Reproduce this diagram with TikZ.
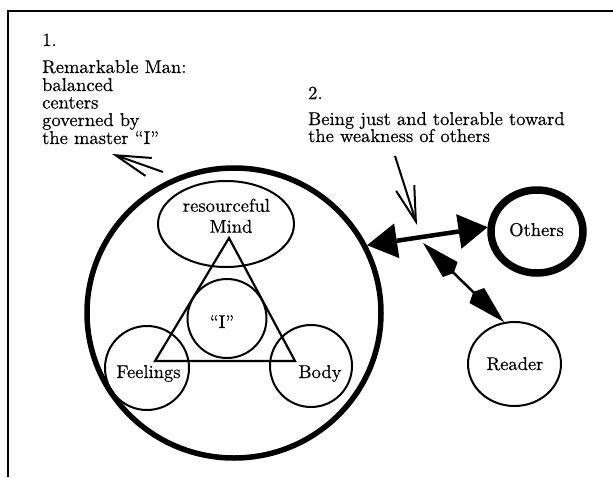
\documentclass[tikz,border=0pt]{standalone}
\usepackage{fontspec}
\setmainfont{lmroman10-regular.otf}[FakeBold=0.5]
\usetikzlibrary{arrows.meta,shapes.geometric}
\begin{document}
\begin{tikzpicture}[x=1pt,y=-1pt,
  txt/.style={font=\fontsize{18.5}{17}\selectfont, inner sep=0pt, anchor=base},
  txtl/.style={txt, anchor=base west},
  ring/.style={ellipse, draw, line width=2pt, inner sep=0pt},
  pointer/.style={line width=2pt, -{Straight Barb[length=35pt,width=19pt]}},
  bond/.style={line width=4.5pt,
    {Triangle[length=30pt,width=35pt,line width=0pt]}-{Triangle[length=29pt,width=35pt,line width=0pt]}},
  link/.style={line width=2.5pt,
    {Kite[length=43pt,width=21pt,inset=5pt,line width=0pt]}-{Kite[length=43pt,width=21pt,inset=5pt,line width=0pt]}}]
\useasboundingbox (0,0) rectangle (613,477);

% frame (top and left edges)
\draw[line width=1.5pt] (8,477) -- (8,11) -- (613,11);

% caption 1
\node[txtl] (n1) at (42,46) {1.};
\node[txtl] (r1) at (42,73) {Remarkable Man:};
\node[txtl] (r2) at (42,91) {balanced};
\node[txtl] (r3) at (42,108.5) {centers};
\node[txtl] (r4) at (42,126) {governed by};
\node[txtl] (r5) at (42,144) {the master “I”};

% caption 2
\node[txtl] (n2) at (308,99) {2.};
\node[txtl] (b1) at (308,125) {Being just and tolerable toward};
\node[txtl] (b2) at (308,142) {the weakness of others};

% the man and his centers
\node[ellipse, draw, line width=5.5pt, inner sep=0pt,
      minimum width=294pt, minimum height=290pt] (man) at (234,313) {};
\node[ring, minimum width=136pt, minimum height=86pt] (mind) at (226,224) {};
\node[ring, minimum size=79pt] (ego) at (227,318.5) {};
\node[ring, minimum size=84pt] (feel) at (147,368) {};
\node[ring, minimum size=82pt] (body) at (311,366) {};
\draw[line width=2.2pt] (229,238) -- (155,361) -- (295,361) -- cycle;

\node[txt] (t1) at (226.5,211.7) {resourceful};
\node[txt] (t2) at (231,232.7) {Mind};
\node[txt] (t3) at (222,328) {“I”};
\node[txt] (t4) at (148.5,378) {Feelings};
\node[txt] (t5) at (320,378) {Body};

% others and reader
\node[ellipse, draw, line width=7.5pt, inner sep=0pt,
      minimum width=92pt, minimum height=83pt] (others) at (537,231.5) {};
\node[txt] (t6) at (536.5,236) {Others};
\node[ring, minimum width=93pt, minimum height=84pt] (reader) at (514.5,364) {};
\node[txt] (t7) at (515,370) {Reader};

% connectors
\coordinate (a1s) at (163,172);
\coordinate (a1e) at (112,154);
\draw[pointer] (a1s) -- (a1e);

\coordinate (a2s) at (395,156);
\coordinate (a2e) at (417,225);
\draw[pointer] (a2s) -- (a2e);

\draw[bond] (man.27.6) -- (others.175);

\coordinate (lk) at (423,243);
\draw[link] (lk) -- (reader.104.6);
\end{tikzpicture}
\end{document}
